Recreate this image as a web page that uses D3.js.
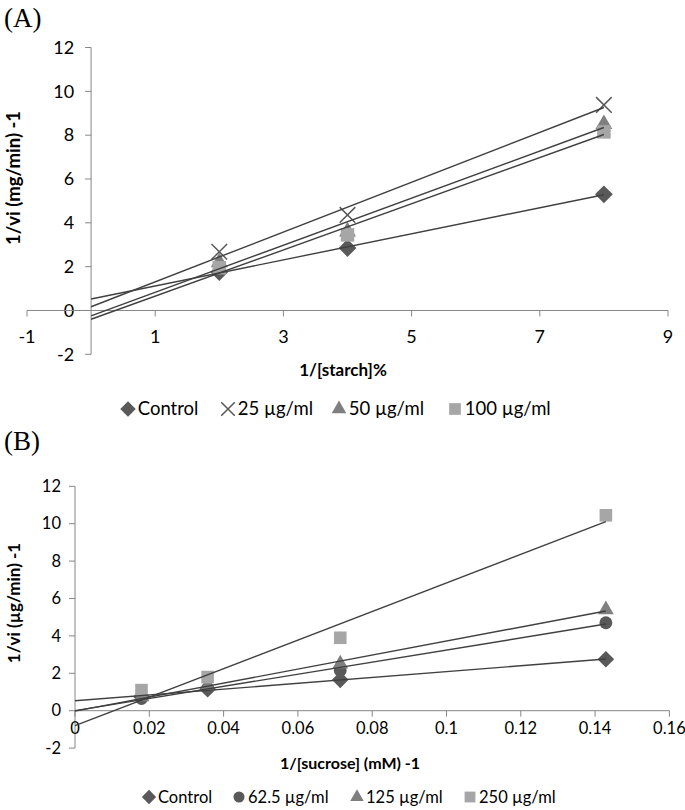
<!DOCTYPE html>
<html><head><meta charset="utf-8">
<script src="https://cdn.jsdelivr.net/npm/d3@7"></script>
<style>
body{margin:0;background:#fff;}
svg text{font-family:Lato,"Open Sans",sans-serif;}
</style></head>
<body><svg id="c" width="685" height="810"></svg>
<script>
// ---------- Panel A data ----------
const xA = [2, 4, 8];
const aControl = [1.75, 2.85, 5.3];
const a25 = [2.68, 4.36, 9.38];
const a50 = [2.2, 3.6, 8.5];
const a100 = [1.95, 3.45, 8.15];
const aNames = ["Control", "25 µg/ml", "50 µg/ml", "100 µg/ml"];
const aXTicks = [-1, 1, 3, 5, 7, 9];
const aYTicks = [-2, 0, 2, 4, 6, 8, 10, 12];

// ---------- Panel B data ----------
const xB = [0.0179, 0.0357, 0.0714, 0.1429];
const bControl = [0.75, 1.15, 1.65, 2.75];
const b62 = [0.65, 1.2, 2.15, 4.7];
const b125 = [0.75, 1.3, 2.5, 5.4];
const b250 = [1.1, 1.8, 3.9, 10.45];
const bNames = ["Control", "62.5 µg/ml", "125 µg/ml", "250 µg/ml"];
const bXTicks = [0, 0.02, 0.04, 0.06, 0.08, 0.1, 0.12, 0.14, 0.16];
const bYTicks = [-2, 0, 2, 4, 6, 8, 10, 12];

const svg = d3.select("#c");
const AXIS = "#868686", LINE = "#404040";
const C_DARK = "#595959", C_MID = "#7f7f7f", C_LIGHT = "#a6a6a6";

function regress(xs, ys){
  const n = xs.length, mx = d3.mean(xs), my = d3.mean(ys);
  let sxy = 0, sxx = 0;
  for (let i=0;i<n;i++){ sxy += (xs[i]-mx)*(ys[i]-my); sxx += (xs[i]-mx)**2; }
  const m = sxy/sxx; return {m, b: my - m*mx};
}

function marker(g, type, x, y, s){
  if (type === "diamond"){
    g.append("path").attr("d", d3.symbol(d3.symbolDiamond2 || d3.symbolDiamond, s*s*0.9)())
      .attr("transform", `translate(${x},${y}) `).attr("fill", C_DARK);
  } else if (type === "x"){
    const h = s*0.52;
    g.append("path").attr("d", `M${x-h},${y-h}L${x+h},${y+h}M${x-h},${y+h}L${x+h},${y-h}`)
      .attr("stroke", C_DARK).attr("stroke-width", 1.5).attr("fill","none");
  } else if (type === "triangle"){
    g.append("path").attr("d", d3.symbol(d3.symbolTriangle, s*s*0.55)())
      .attr("transform", `translate(${x},${y})`).attr("fill", C_MID);
  } else if (type === "square"){
    const h = s*0.45;
    g.append("rect").attr("x", x-h).attr("y", y-h).attr("width", 2*h).attr("height", 2*h).attr("fill", C_LIGHT);
  } else if (type === "circle"){
    g.append("circle").attr("cx", x).attr("cy", y).attr("r", s*0.46).attr("fill", C_DARK);
  }
}

function panel(cfg){
  const g = svg.append("g");
  const x = d3.scaleLinear().domain(cfg.xDom).range(cfg.xRange);
  const y = d3.scaleLinear().domain(cfg.yDom).range(cfg.yRange);
  const x0 = x(cfg.yAxisAt), y0 = y(0);
  g.append("line").attr("x1", x0).attr("x2", x0).attr("y1", y(cfg.yDom[0])).attr("y2", y(cfg.yDom[1]))
    .attr("stroke", AXIS).attr("stroke-width", 1);
  cfg.yTicks.forEach(t => {
    g.append("line").attr("x1", x0-6).attr("x2", x0).attr("y1", y(t)).attr("y2", y(t)).attr("stroke", AXIS);
    g.append("text").attr("x", x0-cfg.yLabGap).attr("y", y(t)).attr("dy", "0.35em")
      .attr("text-anchor", "end").attr("font-size", cfg.tickFont).attr("fill", "#000").text(t);
  });
  g.append("line").attr("x1", x(cfg.xDom[0])).attr("x2", x(cfg.xDom[1])).attr("y1", y0).attr("y2", y0)
    .attr("stroke", AXIS).attr("stroke-width", 1);
  cfg.xTicks.forEach(t => {
    g.append("line").attr("x1", x(t)).attr("x2", x(t)).attr("y1", y0).attr("y2", y0+6).attr("stroke", AXIS);
    g.append("text").attr("x", x(t)).attr("y", y0+cfg.xLabGap).attr("dy", "0.35em")
      .attr("text-anchor", "middle").attr("font-size", cfg.tickFont).attr("fill", "#000").text(t);
  });
  cfg.series.forEach(s => {
    s.ys.forEach((v,i) => marker(g, s.type, x(cfg.xs[i]), y(v), cfg.mSize));
  });
  cfg.series.forEach(s => {
    const r = regress(cfg.xs, s.ys);
    const xa = 0, xb = d3.max(cfg.xs);
    g.append("line").attr("x1", x(xa)).attr("y1", y(r.m*xa + r.b)).attr("x2", x(xb)).attr("y2", y(r.m*xb + r.b))
      .attr("stroke", LINE).attr("stroke-width", 1.4);
  });
  g.append("text").attr("x", cfg.xTitle[0]).attr("y", cfg.xTitle[1]).attr("text-anchor","middle")
    .attr("font-size", cfg.titleFont).attr("font-weight","bold").text(cfg.xTitleText);
  g.append("text").attr("transform", `translate(${cfg.yTitle[0]},${cfg.yTitle[1]}) rotate(-90)`)
    .attr("text-anchor","middle").attr("font-size", cfg.yTitleFont).attr("font-weight","bold").text(cfg.yTitleText);
  g.append("text").attr("x", 4).attr("y", cfg.panelY)
    .style("font-family","'Liberation Serif',serif").attr("font-size", 27).text(cfg.panelLabel);
  cfg.series.forEach((s,i) => {
    const lx = cfg.legendX[i], ly = cfg.legendY;
    marker(g, s.type, lx, ly, cfg.legSize);
    g.append("text").attr("x", lx + cfg.legSize*0.75).attr("y", ly).attr("dy","0.35em")
      .attr("font-size", cfg.legFont).text(s.name);
  });
}

panel({
  xDom:[-1,9], xRange:[27,668], yDom:[-2,12], yRange:[354.3,47.5], yAxisAt:0,
  xTicks:aXTicks, yTicks:aYTicks, xs:xA, tickFont:18, yLabGap:17, xLabGap:26,
  series:[
    {name:aNames[0], ys:aControl, type:"diamond"},
    {name:aNames[1], ys:a25, type:"x"},
    {name:aNames[2], ys:a50, type:"triangle"},
    {name:aNames[3], ys:a100, type:"square"}
  ],
  mSize:15, titleFont:17, yTitleFont:18.5, xTitleText:"1/[starch]%", xTitle:[343,376],
  yTitleText:"1/vi (mg/min) -1", yTitle:[20,178], panelLabel:"(A)", panelY:27,
  legendX:[128,228,339,455], legendY:409, legSize:13, legFont:18.5
});

panel({
  xDom:[0,0.16], xRange:[75,669.4], yDom:[-2,12], yRange:[748.1,486.3], yAxisAt:0,
  xTicks:bXTicks, yTicks:bYTicks, xs:xB, tickFont:16.5, yLabGap:14, xLabGap:18,
  series:[
    {name:bNames[0], ys:bControl, type:"diamond"},
    {name:bNames[1], ys:b62, type:"circle"},
    {name:bNames[2], ys:b125, type:"triangle"},
    {name:bNames[3], ys:b250, type:"square"}
  ],
  mSize:14, titleFont:16, yTitleFont:17, xTitleText:"1/[sucrose] (mM) -1", xTitle:[350,769],
  yTitleText:"1/vi (µg/min) -1", yTitle:[20,603], panelLabel:"(B)", panelY:450,
  legendX:[149,239,357,470], legendY:797, legSize:12, legFont:16.5
});
</script></body></html>
